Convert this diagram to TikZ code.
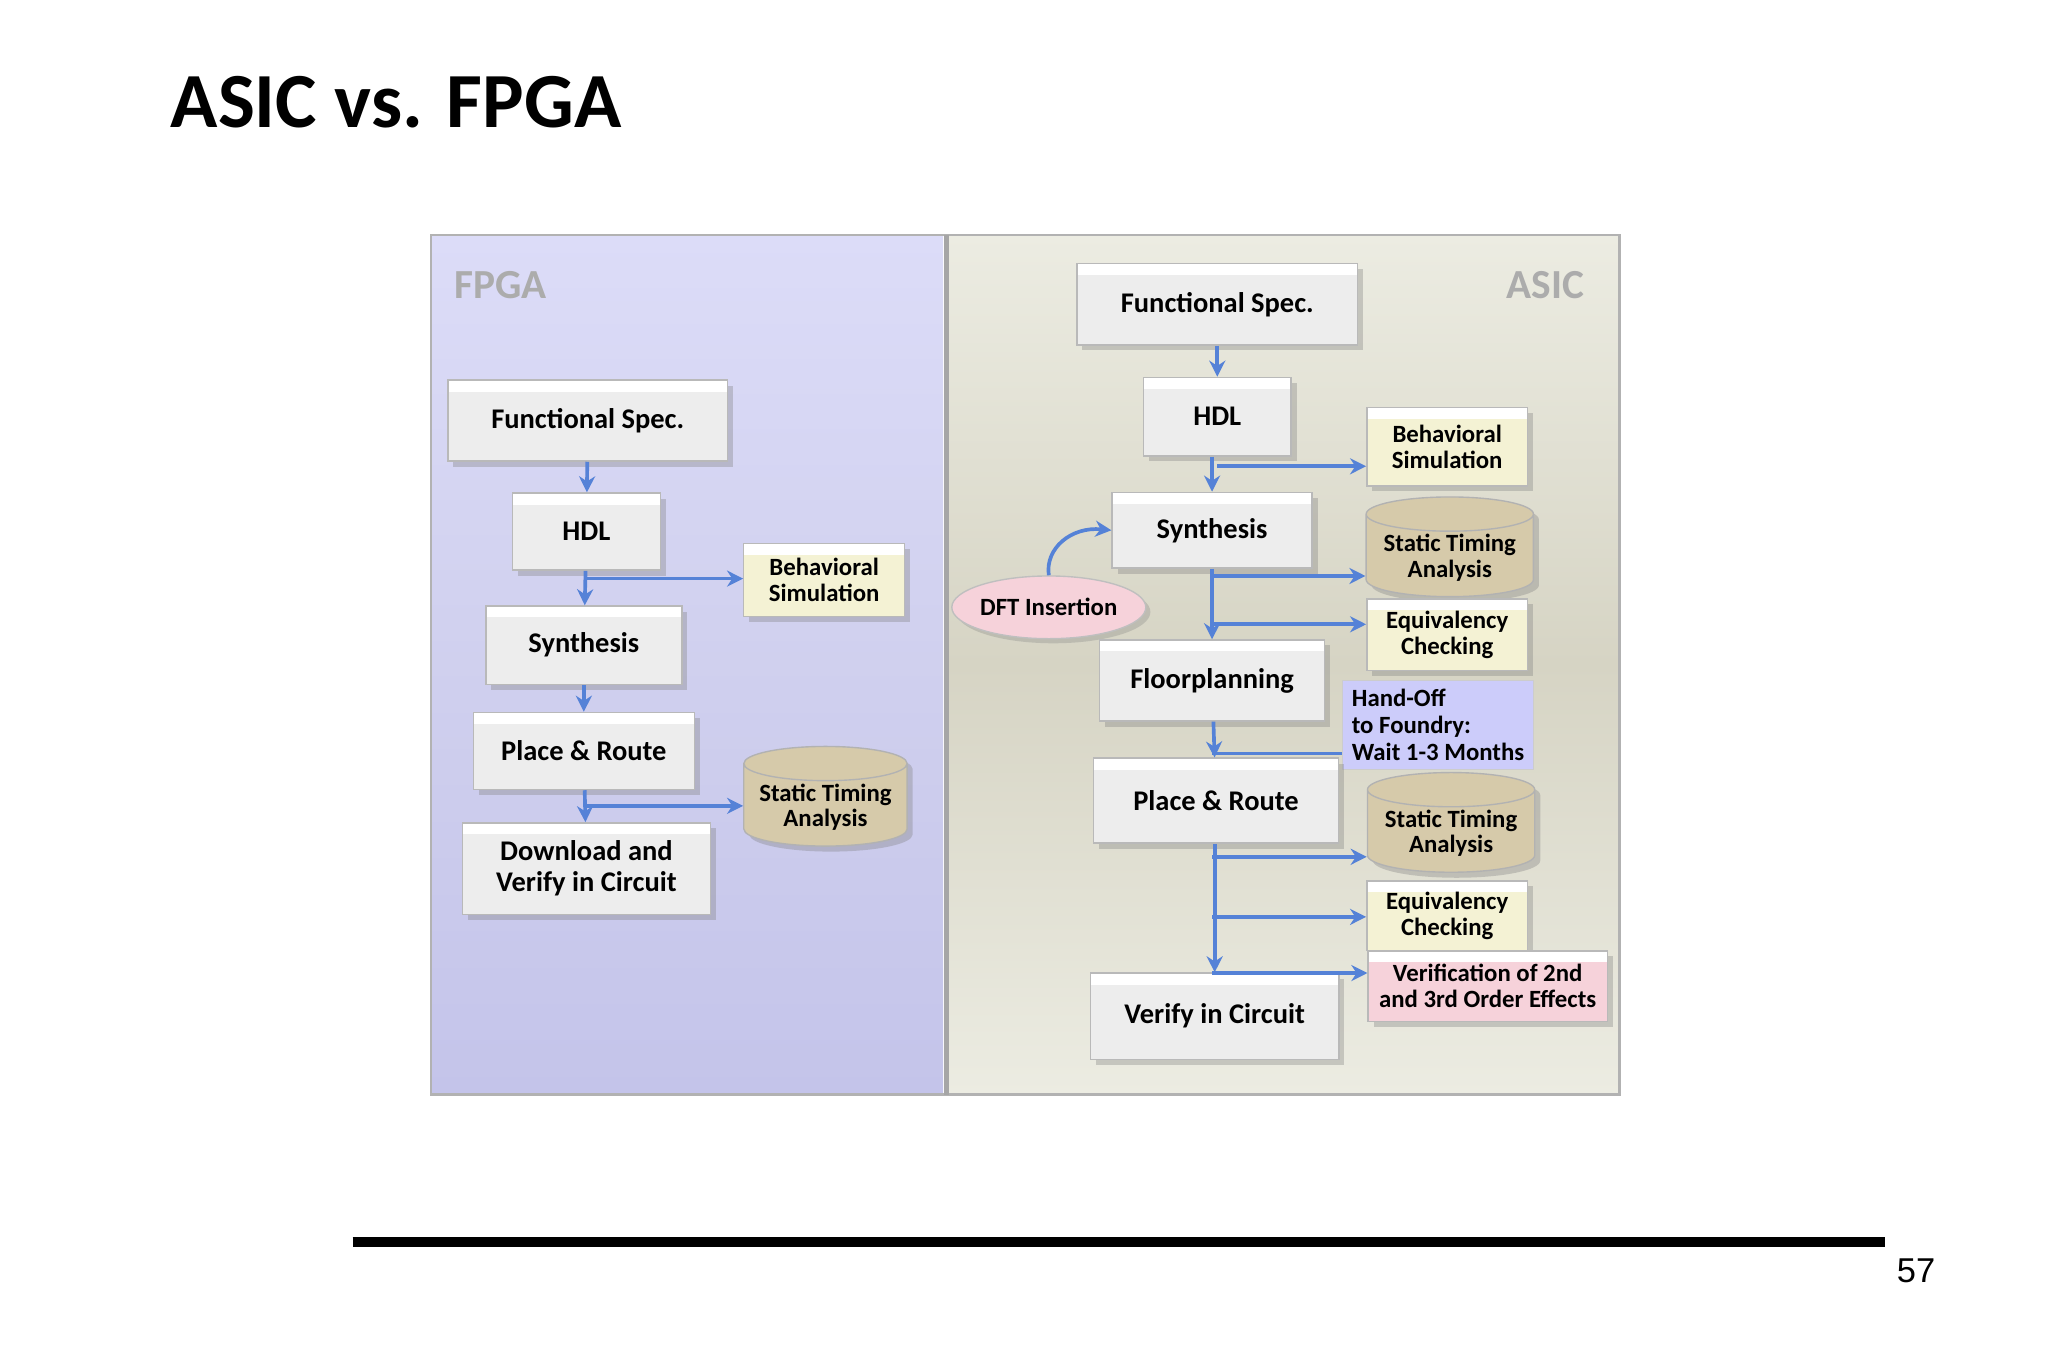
\documentclass[tikz,border=0pt]{standalone}
\usepackage{fontspec}
\setmainfont{Carlito}
\newfontfamily\arialf{Liberation Sans}
\usetikzlibrary{shadows,shapes.geometric,arrows.meta}
\definecolor{arrblue}{RGB}{85,130,215}
\definecolor{lav}{RGB}{196,196,234}
\definecolor{lavlight}{RGB}{220,220,248}
\definecolor{beige}{RGB}{214,212,196}
\definecolor{beigelight}{RGB}{236,236,226}
\definecolor{yelbox}{RGB}{244,242,212}
\definecolor{tanbox}{RGB}{214,202,170}
\definecolor{pinkbox}{RGB}{246,210,218}
\definecolor{notebox}{RGB}{204,204,250}
\tikzset{
 slab/.style={draw=gray!55,line width=0.3pt,fill=gray!14,font=\bfseries\fontsize{6.2}{6.8}\selectfont,align=center,inner sep=1pt,
   drop shadow={shadow xshift=1.2pt,shadow yshift=-1.2pt,opacity=0.35},
   path picture={\fill[white] (path picture bounding box.north west) rectangle ([yshift=-2.5pt]path picture bounding box.north east);}},
 side/.style={slab,fill=yelbox,font=\bfseries\fontsize{5.4}{5.6}\selectfont},
 cyl/.style={cylinder,shape border rotate=90,aspect=0.25,draw=gray!60,line width=0.3pt,fill=tanbox,align=center,
   font=\bfseries\fontsize{5.4}{5.6}\selectfont,drop shadow={shadow xshift=1.2pt,shadow yshift=-1.2pt,opacity=0.35},inner sep=0.5pt},
 arr/.style={draw=arrblue,line width=0.8pt,-{Stealth[length=3.5pt,width=3.5pt]}},
 ln/.style={draw=arrblue,line width=0.8pt},
 plabel/.style={font=\bfseries\fontsize{9}{9}\selectfont,text=gray!65}
}
\begin{document}
\begin{tikzpicture}[x=0.01cm,y=-0.01cm]
\useasboundingbox (0,0) rectangle (1568,1031);
\fill[white] (0,0) rectangle (1568,1031);
\node[anchor=west,font=\bfseries\fontsize{17}{17}\selectfont,inner sep=0pt] (title) at (130,78) {ASIC vs. FPGA};
% panels
\shade[top color=lavlight,bottom color=lav,middle color=lav!80!white] (330,180) rectangle (722,838);
\shade[top color=beigelight,bottom color=beigelight,middle color=beige] (727,180) rectangle (1240,838);
\draw[gray!60,line width=0.6pt] (330,180) rectangle (1240,838);
\draw[gray!70,line width=1pt] (724.5,180) -- (724.5,838);
\node[plabel] (fl) at (383,218) {FPGA};
\node[plabel] (al) at (1183,218) {ASIC};
% FPGA
\node[slab,minimum width=2.14cm,minimum height=0.62cm] (ffs) at (450,322) {Functional Spec.};
\node[slab,minimum width=1.13cm,minimum height=0.59cm] (fhdl) at (449,407) {HDL};
\node[side,minimum width=1.23cm,minimum height=0.56cm] (fbs) at (631,444) {Behavioral\\Simulation};
\node[slab,minimum width=1.5cm,minimum height=0.6cm] (fsyn) at (447,494) {Synthesis};
\node[slab,minimum width=1.69cm,minimum height=0.59cm] (fpr) at (447,575) {Place \& Route};
\node[cyl,minimum width=1.25cm,minimum height=0.67cm] (fsta) at (632,618) {Static Timing\\Analysis};
\node[slab,minimum width=1.9cm,minimum height=0.7cm] (fdl) at (449,665) {Download and\\Verify in Circuit};
\draw[arr] (ffs) -- (fhdl);
\draw[arr] (fhdl) -- (fsyn);
\draw[arr] (fsyn) -- (fpr);
\draw[arr] (fpr) -- (fdl);
\coordinate (fb1) at (449,443);
\coordinate (fb2) at (449,617);
\draw[arr] (fb1) -- (fbs.west |- fb1);
\draw[arr] (fb2) -- (fsta.west |- fb2);
% ASIC
\node[slab,minimum width=2.15cm,minimum height=0.62cm] (afs) at (932,233) {Functional Spec.};
\node[slab,minimum width=1.13cm,minimum height=0.6cm] (ahdl) at (932,319) {HDL};
\node[side,minimum width=1.23cm,minimum height=0.6cm] (abs) at (1108,342) {Behavioral\\Simulation};
\node[slab,minimum width=1.53cm,minimum height=0.58cm] (asyn) at (928,406) {Synthesis};
\node[ellipse,draw=gray!50,line width=0.3pt,fill=pinkbox,minimum width=1.3cm,minimum height=0.48cm,inner sep=0pt,font=\bfseries\fontsize{5.4}{5.6}\selectfont,drop shadow={shadow xshift=1pt,shadow yshift=-1pt,opacity=0.3}] (dft) at (803,465) {DFT Insertion};
\node[cyl,minimum width=1.28cm,minimum height=0.65cm] (asta1) at (1110,427) {Static Timing\\Analysis};
\node[side,minimum width=1.23cm,minimum height=0.55cm] (aeq1) at (1108,486) {Equivalency\\Checking};
\node[slab,minimum width=1.72cm,minimum height=0.62cm] (afp) at (928,521) {Floorplanning};
\node[draw=gray!40,line width=0.3pt,fill=notebox,minimum width=1.42cm,minimum height=0.6cm,align=left,font=\bfseries\fontsize{5.4}{5.8}\selectfont,inner sep=2pt] (note) at (1101,555) {Hand-Off\\to Foundry:\\Wait 1-3 Months};
\node[slab,minimum width=1.87cm,minimum height=0.65cm] (apr) at (931,613) {Place \& Route};
\node[cyl,minimum width=1.28cm,minimum height=0.65cm] (asta2) at (1111,638) {Static Timing\\Analysis};
\node[side,minimum width=1.23cm,minimum height=0.53cm] (aeq2) at (1108,701) {Equivalency\\Checking};
\node[side,fill=pinkbox,minimum width=1.83cm,minimum height=0.54cm] (aver) at (1139,755) {Verification of 2nd\\and 3rd Order Effects};
\node[slab,minimum width=1.9cm,minimum height=0.66cm] (avc) at (930,778) {Verify in Circuit};
\draw[arr] (afs) -- (ahdl);
\draw[arr] (ahdl.south -| asyn) -- (asyn);
\draw[arr] (asyn) -- (afp);
\draw[arr] (afp) -- (apr);
\draw[arr] (apr.south -| avc) -- (avc);
\coordinate (ab1) at (932,357);
\coordinate (ab2) at (928,441);
\coordinate (ab3) at (928,478);
\coordinate (ab4) at (928,577);
\coordinate (ab5) at (928,656);
\coordinate (ab6) at (928,702);
\coordinate (ab7) at (928,745);
\draw[arr] (ab1) -- (abs.west |- ab1);
\draw[arr] (ab2) -- (asta1.west |- ab2);
\draw[arr] (ab3) -- (aeq1.west |- ab3);
\draw[ln] (note.west |- ab4) -- (ab4);
\draw[arr] (ab5) -- (asta2.west |- ab5);
\draw[arr] (ab6) -- (aeq2.west |- ab6);
\draw[arr] (ab7) -- (aver.west |- ab7);
\draw[arr] (dft.north) .. controls (800,420) and (820,403) .. (asyn.west);
% footer
\draw[line width=2.3pt] (270,951) -- (1443,951);
\node[font=\arialf\fontsize{7.5}{7.5}\selectfont] (pg) at (1467,973) {57};
\end{tikzpicture}
\end{document}
